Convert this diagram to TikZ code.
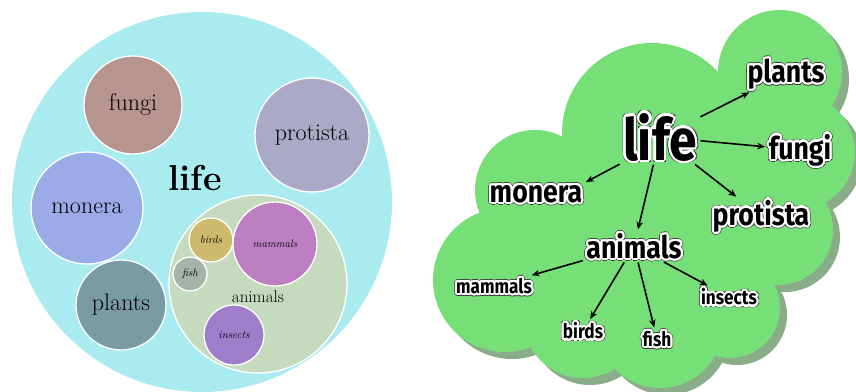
\documentclass[tikz,border=0pt]{standalone}
\usepackage{fontspec}
\newfontfamily\cloudfont[FakeStretch=0.86]{Fira Sans}
\usetikzlibrary{calc,arrows.meta}
\definecolor{lifebg}{HTML}{AAEBF0}
\definecolor{fungic}{HTML}{B7958F}
\definecolor{protc}{HTML}{AAAAC6}
\definecolor{monc}{HTML}{9AABE8}
\definecolor{plantc}{HTML}{7A9AA6}
\definecolor{animc}{HTML}{C6DABD}
\definecolor{birdc}{HTML}{CDBA6C}
\definecolor{mammc}{HTML}{BC80C2}
\definecolor{fishc}{HTML}{A7B3A8}
\definecolor{insc}{HTML}{9F7DCA}
\definecolor{cloudc}{HTML}{77DF77}
\definecolor{shadc}{HTML}{89AD89}
\tikzset{
  bub/.style={circle,draw=white,line width=1.3pt,inner sep=0pt},
  lbl/.style={inner sep=2.5pt},
  arr/.style={-{Stealth[length=8pt,width=6.5pt]},line width=1.6pt,shorten >=1pt,shorten <=1pt},
}
\newcommand\cbig{\cloudfont\bfseries\fontsize{58}{60}\selectfont}
\newcommand\cmid{\cloudfont\bfseries\fontsize{31}{34}\selectfont}
\newcommand\csmall{\cloudfont\bfseries\fontsize{20}{22}\selectfont}
\newcommand\halolabel[4]{%
  \foreach \a in {0,22.5,...,337.5}{
    \node[lbl,font=#3,text=black!75] at ($(#2)+(\a:2.9)$) {#4};
  }
  \foreach \a in {0,22.5,...,337.5}{
    \node[lbl,font=#3,text=white] at ($(#2)+(\a:2.2)$) {#4};
  }
  \node[lbl,font=#3] (#1) at (#2) {#4};
}
\begin{document}
\begin{tikzpicture}[x=1pt,y=-1pt]
\useasboundingbox (0,0) rectangle (856,391);
\clip (0,0) rectangle (856,391);
% ---------- left: packed circles ----------
\fill[lifebg] (202,202) circle (190);
\node[font=\bfseries\fontsize{36}{40}\selectfont] (life1) at (195,178) {life};
\node[bub,fill=fungic,minimum size=98] (fungi1) at (133,105) {\fontsize{24}{28}\selectfont fungi};
\node[bub,fill=protc,minimum size=114] (protista1) at (312,135) {\fontsize{24}{28}\selectfont protista};
\node[bub,fill=monc,minimum size=112] (monera1) at (87,208) {\fontsize{24}{28}\selectfont monera};
\node[bub,fill=plantc,minimum size=90] (plants1) at (121,305) {\fontsize{24}{28}\selectfont plants};
\node[bub,fill=animc,minimum size=178] (animalsc) at (258,284) {};
\node[font=\fontsize{17}{20}\selectfont] (animals1) at (258,297) {animals};
\node[bub,fill=birdc,minimum size=44] (birds1) at (211,240) {\itshape\fontsize{11}{13}\selectfont birds};
\node[bub,fill=mammc,minimum size=84] (mammals1) at (275,244) {\itshape\fontsize{11}{13}\selectfont mammals};
\node[bub,fill=fishc,minimum size=34] (fish1) at (190,274) {\itshape\fontsize{11}{13}\selectfont fish};
\node[bub,fill=insc,minimum size=60] (insects1) at (234,335) {\itshape\fontsize{11}{13}\selectfont insects};
% ---------- right: cloud ----------
\def\cloudcircles{
  (505,280) circle (72)
  (535,190) circle (60)
  (652,133) circle (90)
  (780,72) circle (62)
  (797,152) circle (58)
  (740,122) circle (32)
  (778,230) circle (55)
  (730,308) circle (50)
  (660,325) circle (63)
  (583,318) circle (60)
  (660,230) circle (110)}
\begin{scope}[shift={(7,7)}]
  \fill[shadc] \cloudcircles;
\end{scope}
\fill[cloudc] \cloudcircles;
\halolabel{life}{660,137}{\cbig}{life}
\halolabel{plants}{786,74}{\cmid}{plants}
\halolabel{fungi}{800,150}{\cmid}{fungi}
\halolabel{protista}{761,216}{\cmid}{protista}
\halolabel{monera}{536,194}{\cmid}{monera}
\halolabel{animals}{634,246}{\cmid}{animals}
\halolabel{mammals}{494,286}{\csmall}{mammals}
\halolabel{birds}{583,331}{\csmall}{birds}
\halolabel{fish}{657,339}{\csmall}{fish}
\halolabel{insects}{729,297}{\csmall}{insects}
\draw[arr] (life) -- (plants);
\draw[arr] (life) -- (fungi);
\draw[arr] (life) -- (protista);
\draw[arr] (life.south west) -- (monera.north east);
\draw[arr] (life) -- (animals);
\draw[arr] (animals) -- (mammals);
\draw[arr] (animals) -- (birds);
\draw[arr] (animals) -- (fish);
\draw[arr] (animals) -- (insects);
\end{tikzpicture}
\end{document}
